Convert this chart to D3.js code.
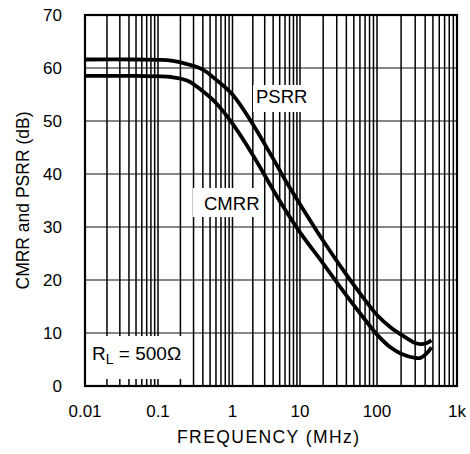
<!DOCTYPE html>
<html>
<head>
<meta charset="utf-8">
<script src="https://cdn.jsdelivr.net/npm/d3@7"></script>
<style>
  html, body { margin: 0; padding: 0; background: #fff; }
  svg { display: block; }
  text { font-family: "Liberation Sans", Arial, Helvetica, sans-serif; fill: #000; }
</style>
</head>
<body>
<svg id="chart" width="470" height="454"></svg>
<script>
// ---- data ----
const freqMHz = [0.01, 0.05, 0.15, 0.25, 0.4, 0.6, 1, 2, 4, 6, 10, 20, 40, 70, 100, 150, 200, 300, 350, 420, 480];
const psrr    = [61.6, 61.6, 61.4, 60.7, 59.7, 57.8, 55.0, 49.4, 42.9, 38.9, 34.3, 27.4, 21.0, 16.2, 13.4, 11.0, 9.7, 8.1, 7.9, 8.1, 8.6];
const cmrr    = [58.5, 58.5, 58.3, 57.6, 55.6, 53.4, 49.5, 43.6, 37.0, 33.3, 29.0, 23.1, 17.1, 12.5, 9.7, 7.2, 6.1, 5.3, 5.3, 6.2, 7.3];
const xTickValues = [0.01, 0.1, 1, 10, 100, 1000];
const xTickLabels = ["0.01", "0.1", "1", "10", "100", "1k"];
const yTickValues = [0, 10, 20, 30, 40, 50, 60, 70];

(function () {
// ---- layout ----
const pl = 85, pr = 457, pt = 15, pb = 386;
const svg = d3.select("#chart");

// piecewise log scale (decade spacing of the reference is slightly uneven)
const x = d3.scaleLog()
  .domain([0.01, 0.1, 1, 10, 100, 1000])
  .range([85, 158, 232.5, 300, 377, 457]);
const y = d3.scaleLinear().domain([0, 70]).range([pb, pt]);

// vertical grid (1..9 per decade)
const vGrid = [];
for (let e = -2; e <= 2; e++) for (let k = 1; k <= 9; k++) vGrid.push(k * Math.pow(10, e));
vGrid.push(1000);

svg.append("g").selectAll("line").data(vGrid).join("line")
  .attr("x1", d => x(d)).attr("x2", d => x(d))
  .attr("y1", pt).attr("y2", pb)
  .attr("stroke", "#000").attr("stroke-width", 1.5);

svg.append("g").selectAll("line").data(yTickValues.slice(1, -1)).join("line")
  .attr("x1", pl).attr("x2", pr)
  .attr("y1", d => y(d)).attr("y2", d => y(d))
  .attr("stroke", "#111").attr("stroke-width", 1.2);

// white label boxes
const boxes = [
  {x0: 253, y0: 85, x1: 311, y1: 112},
  {x0: 193, y0: 188, x1: 264, y1: 217},
  {x0: 86, y0: 336, x1: 191, y1: 379}
];
svg.append("g").selectAll("rect").data(boxes).join("rect")
  .attr("x", d => d.x0).attr("y", d => d.y0)
  .attr("width", d => d.x1 - d.x0).attr("height", d => d.y1 - d.y0)
  .attr("fill", "#fff");

// curves
const line = d3.line().x(d => x(d[0])).y(d => y(d[1])).curve(d3.curveCatmullRom.alpha(0.5));
[psrr, cmrr].forEach(vals => {
  svg.append("path")
    .datum(freqMHz.map((f, i) => [f, vals[i]]))
    .attr("d", line)
    .attr("fill", "none").attr("stroke", "#000").attr("stroke-width", 3.8)
    .attr("stroke-linejoin", "round").attr("stroke-linecap", "butt");
});

// border
svg.append("rect").attr("x", pl).attr("y", pt)
  .attr("width", pr - pl).attr("height", pb - pt)
  .attr("fill", "none").attr("stroke", "#000").attr("stroke-width", 2.2);

// tick labels
svg.append("g").selectAll("text").data(yTickValues).join("text")
  .attr("x", 62).attr("y", d => y(d) + 6)
  .attr("text-anchor", "end").attr("font-size", 17)
  .text(d => d);

svg.append("g").selectAll("text").data(xTickValues).join("text")
  .attr("x", d => x(d)).attr("y", 417)
  .attr("text-anchor", "middle").attr("font-size", 17)
  .text((d, i) => xTickLabels[i]);

// axis titles
svg.append("text")
  .attr("x", 268).attr("y", 443)
  .attr("text-anchor", "middle").attr("font-size", 17.5)
  .attr("textLength", 182).attr("lengthAdjust", "spacing")
  .text("FREQUENCY (MHz)");

svg.append("text")
  .attr("transform", `translate(28.5,${(pt + pb) / 2}) rotate(-90)`)
  .attr("text-anchor", "middle").attr("font-size", 17.5)
  .text("CMRR and PSRR (dB)");

// curve labels
svg.append("text").attr("x", 256).attr("y", 103).attr("font-size", 18.5).text("PSRR");
svg.append("text").attr("x", 204).attr("y", 210).attr("font-size", 18.5).text("CMRR");

const rl = svg.append("text").attr("x", 92).attr("y", 360).attr("font-size", 19);
rl.append("tspan").text("R");
rl.append("tspan").attr("font-size", 14).attr("dy", 4).text("L");
rl.append("tspan").attr("dy", -4).text(" = 500\u03A9");
})();
</script>
</body>
</html>
